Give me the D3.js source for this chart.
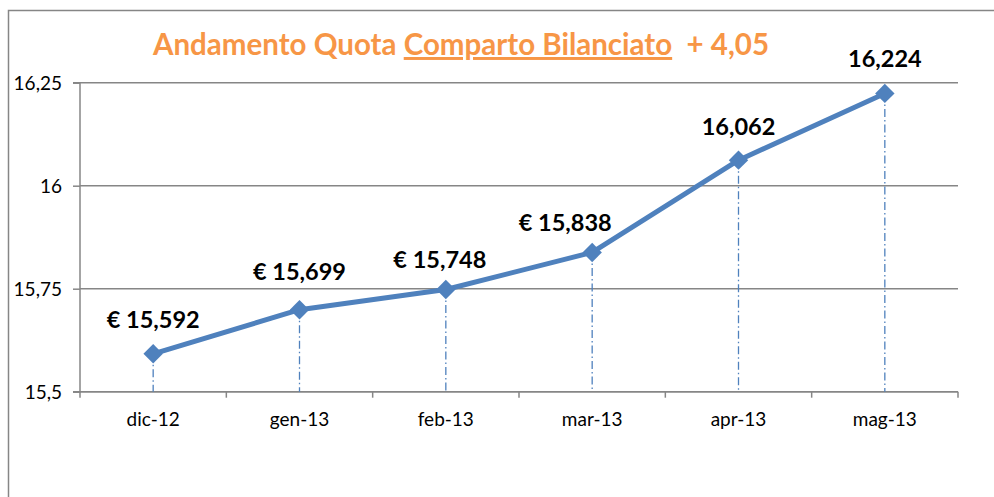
<!DOCTYPE html>
<html><head><meta charset="utf-8">
<script src="https://cdn.jsdelivr.net/npm/d3@7"></script>
<style>body{margin:0;background:#fff;} svg{display:block;}</style>
</head><body>
<script>
const categories = ["dic-12","gen-13","feb-13","mar-13","apr-13","mag-13"];
const values = [15.592,15.699,15.748,15.838,16.062,16.224];
const pointLabels = ["€ 15,592","€ 15,699","€ 15,748","€ 15,838","16,062","16,224"];
const yTicks = [15.5,15.75,16,16.25];
const yTickLabels = ["15,5","15,75","16","16,25"];
const titleParts = ["Andamento Quota ","Comparto Bilanciato","  + 4,05"];

(function(){
const W=994,H=497;
const svg=d3.select("body").append("svg").attr("width",W).attr("height",H);
const font="Lato, 'Open Sans', sans-serif";

svg.append("path").attr("d",`M8.5,${H+5}V10.5H${W+5}`).attr("fill","none").attr("stroke","#868686").attr("stroke-width",1.5);

const pL=80,pR=958,pT=82.7,pB=391.7;
const x=d3.scaleBand().domain(categories).range([pL,pR]);
const y=d3.scaleLinear().domain([15.5,16.25]).range([pB,pT]);

svg.append("g").selectAll("line").data(yTicks).join("line")
 .attr("x1",pL).attr("x2",pR).attr("y1",d=>y(d)).attr("y2",d=>y(d))
 .attr("stroke","#868686").attr("stroke-width",1.5);

const yAxis=d3.axisLeft(y).tickValues(yTicks).tickSize(7).tickFormat((d,i)=>yTickLabels[i]);
const gy=svg.append("g").attr("transform",`translate(${pL},0)`).call(yAxis);
gy.attr("font-size",null).attr("font-family",null);
gy.select(".domain").attr("stroke","#868686").attr("stroke-width",1.5).attr("d",`M-7,${pT}H0V${pB}H-7`);
gy.selectAll(".tick line").attr("stroke","#868686").attr("stroke-width",1.5);
gy.selectAll(".tick text").attr("font-family",font).attr("font-size",19).attr("fill","#000").attr("x",-18).attr("dy","0.36em");

const gx=svg.append("g").attr("transform",`translate(0,${pB})`);
gx.append("line").attr("x1",pL).attr("x2",pR).attr("stroke","#868686").attr("stroke-width",1.5);
const bounds=categories.map(c=>x(c)).concat([pR]);
gx.selectAll("line.tk").data(bounds).join("line").attr("class","tk")
 .attr("x1",d=>d).attr("x2",d=>d).attr("y1",0).attr("y2",6).attr("stroke","#868686").attr("stroke-width",1.5);
gx.selectAll("text").data(categories).join("text")
 .attr("x",d=>x(d)+x.bandwidth()/2).attr("y",34).attr("text-anchor","middle")
 .attr("font-family",font).attr("font-size",19).attr("fill","#000").text(d=>d);

const cx=(d,i)=>x(categories[i])+x.bandwidth()/2;

svg.append("g").selectAll("line").data(values).join("line")
 .attr("x1",cx).attr("x2",cx).attr("y1",d=>y(d)).attr("y2",pB)
 .attr("stroke","#4F81BD").attr("stroke-width",1.3).attr("stroke-dasharray","8,3,1.5,3");

const line=d3.line().x((d,i)=>cx(d,i)).y(d=>y(d));
svg.append("path").datum(values).attr("d",line).attr("fill","none")
 .attr("stroke","#4F81BD").attr("stroke-width",5).attr("stroke-linejoin","round");

svg.append("g").selectAll("path").data(values).join("path")
 .attr("d",d3.symbol().type(d3.symbolDiamond2).size(240))
 .attr("transform",(d,i)=>`translate(${cx(d,i)},${y(d)})`).attr("fill","#4F81BD");

const lblOffset=[[0,-26],[0,-30],[-6,-22],[-27,-21],[0,-25],[0,-26]];
svg.append("g").selectAll("text").data(values).join("text")
 .attr("x",(d,i)=>cx(d,i)+lblOffset[i][0]).attr("y",(d,i)=>y(d)+lblOffset[i][1])
 .attr("text-anchor","middle").attr("font-family",font).attr("font-weight","bold")
 .attr("font-size",23.5).attr("fill","#000").text((d,i)=>pointLabels[i]);

const t=svg.append("text").attr("x",461).attr("y",55).attr("text-anchor","middle")
 .attr("font-family",font).attr("font-weight","bold").attr("font-size",29.5).attr("fill","#F79646")
 .style("white-space","pre");
t.append("tspan").text(titleParts[0]);
t.append("tspan").attr("text-decoration","underline").text(titleParts[1]);
t.append("tspan").text(titleParts[2]);
})();
</script>
</body></html>
